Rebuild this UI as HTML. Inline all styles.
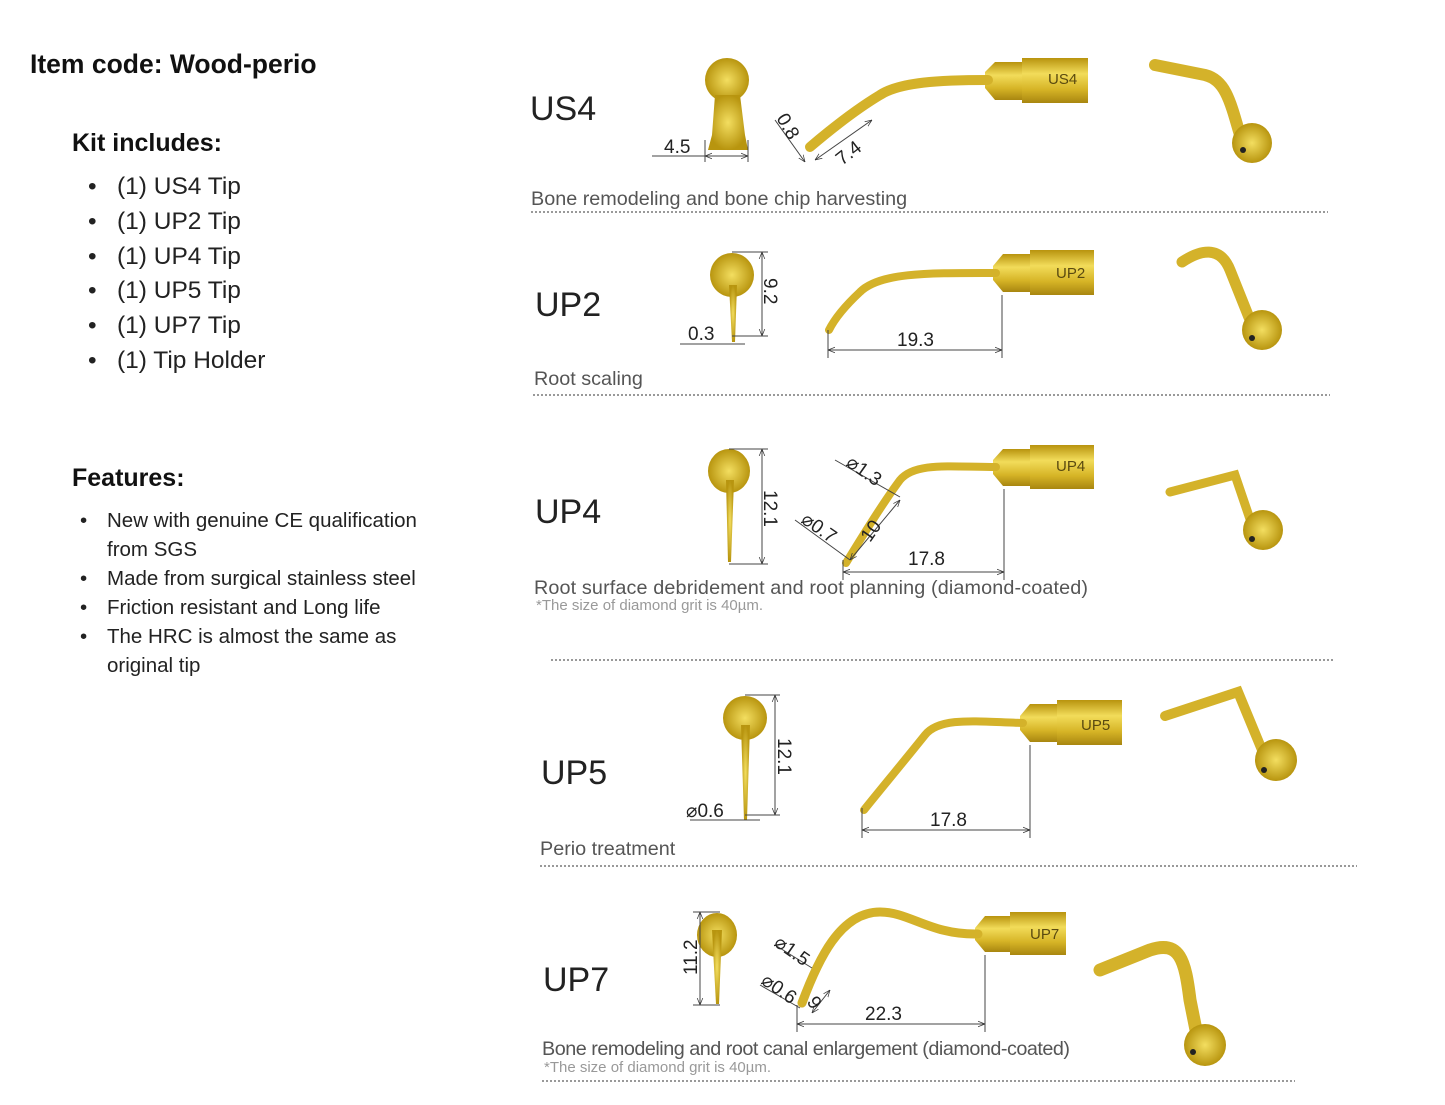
<!DOCTYPE html>
<html><head><meta charset="utf-8"><style>
html,body{margin:0;padding:0;background:#fff;}
body{width:1445px;height:1105px;position:relative;overflow:hidden;font-family:"Liberation Sans",sans-serif;}
.t{position:absolute;white-space:nowrap;color:#111;}
svg{position:absolute;left:0;top:0;}
.li{position:relative;padding-left:29px;}
.li:before{content:"•";position:absolute;left:0;}
</style></head><body>
<div class="t" style="left:30px;top:49px;font-size:26.5px;font-weight:bold;">Item code: Wood-perio</div>
<div class="t" style="left:72px;top:129px;font-size:25px;font-weight:bold;">Kit includes:</div>
<div class="t" style="left:88px;top:170px;font-size:24.5px;line-height:34.8px;color:#222;">
<div class="li">(1) US4 Tip</div><div class="li">(1) UP2 Tip</div><div class="li">(1) UP4 Tip</div><div class="li">(1) UP5 Tip</div><div class="li">(1) UP7 Tip</div><div class="li">(1) Tip Holder</div></div>
<div class="t" style="left:72px;top:464px;font-size:25px;font-weight:bold;">Features:</div>
<div class="t" style="left:80px;top:506px;font-size:20.5px;line-height:29px;color:#222;">
<div class="li" style="padding-left:27px">New with genuine CE qualification</div>
<div style="padding-left:27px">from SGS</div>
<div class="li" style="padding-left:27px">Made from surgical stainless steel</div>
<div class="li" style="padding-left:27px">Friction resistant and Long life</div>
<div class="li" style="padding-left:27px">The HRC is almost the same as</div>
<div style="padding-left:27px">original tip</div></div>

<svg width="1445" height="1105" font-family="Liberation Sans, sans-serif">
<defs>
<linearGradient id="g" x1="0" y1="0" x2="0" y2="1"><stop offset="0" stop-color="#b8930e"/><stop offset=".35" stop-color="#f2dc5a"/><stop offset=".7" stop-color="#d6b426"/><stop offset="1" stop-color="#a88610"/></linearGradient>
<radialGradient id="r"><stop offset="0" stop-color="#f3de60"/><stop offset="1" stop-color="#b8950f"/></radialGradient>
<marker id="a" viewBox="0 0 10 10" refX="10" refY="5" markerWidth="7" markerHeight="7" orient="auto-start-reverse"><path d="M0,1 L10,5 L0,9" fill="none" stroke="#333"/></marker>
</defs>
<g fill="#222" font-size="34">
<text x="530" y="120">US4</text><text x="535" y="316">UP2</text><text x="535" y="523">UP4</text><text x="541" y="784">UP5</text><text x="543" y="991">UP7</text>
</g>
<g fill="#555" font-size="19.8">
<text x="531" y="205">Bone remodeling and bone chip harvesting</text>
<text x="534" y="385">Root scaling</text>
<text x="534" y="594" textLength="554">Root surface debridement and root planning (diamond-coated)</text>
<text x="540" y="855">Perio treatment</text>
<text x="542" y="1055" textLength="528">Bone remodeling and root canal enlargement (diamond-coated)</text>
</g>
<g fill="#999" font-size="15"><text x="536" y="610">*The size of diamond grit is 40µm.</text><text x="544" y="1072">*The size of diamond grit is 40µm.</text></g>
<g stroke="#999" stroke-width="2" stroke-dasharray="2,2">
<line x1="531" y1="212" x2="1328" y2="212"/><line x1="533" y1="395" x2="1330" y2="395"/><line x1="551" y1="660" x2="1333" y2="660"/><line x1="540" y1="866" x2="1357" y2="866"/><line x1="542" y1="1081" x2="1295" y2="1081"/>
</g>
<g fill="url(#g)">
<rect x="1022" y="58" width="66" height="45"/><path d="M995,62 L1022,62 L1022,100 L995,100 L985,88 L985,72Z"/>
<rect x="1030" y="250" width="64" height="45"/><path d="M1003,254 L1030,254 L1030,292 L1003,292 L993,280 L993,266Z"/>
<rect x="1030" y="445" width="64" height="44"/><path d="M1003,449 L1030,449 L1030,486 L1003,486 L993,474 L993,460Z"/>
<rect x="1057" y="700" width="65" height="45"/><path d="M1030,704 L1057,704 L1057,742 L1030,742 L1020,730 L1020,716Z"/>
<rect x="1010" y="912" width="56" height="43"/><path d="M985,916 L1010,916 L1010,952 L985,952 L975,940 L975,928Z"/>
</g>
<g fill="#5a4a10" font-size="15"><text x="1048" y="84">US4</text><text x="1056" y="278">UP2</text><text x="1056" y="471">UP4</text><text x="1081" y="730">UP5</text><text x="1030" y="939">UP7</text></g>
<g fill="none" stroke="#d4b22a" stroke-linecap="round">
<path d="M988,80 C940,80 900,82 880,95 C855,110 830,130 810,147" stroke-width="10"/>
<path d="M996,273 C930,273 880,272 860,292 C845,306 835,318 829,330" stroke-width="8"/>
<path d="M996,467 C950,467 915,462 900,480 C885,500 860,540 846,563" stroke-width="8"/>
<path d="M1023,723 C980,722 940,716 925,735 C905,760 880,790 864,810" stroke-width="8"/>
<path d="M978,934 C930,935 910,912 880,912 C840,912 818,960 802,1003" stroke-width="9"/>
</g>
<g fill="url(#r)">
<ellipse cx="727" cy="80" rx="22" ry="22"/><path d="M715,95 L740,95 L745,135 L748,150 L708,150 L712,135Z"/>
<circle cx="732" cy="275" r="22"/><path d="M729,285 L737,285 L735,342 L732,342Z"/>
<ellipse cx="729" cy="471" rx="21" ry="22"/><path d="M726,480 L734,480 L731,562 L728,562Z"/>
<circle cx="745" cy="718" r="22"/><path d="M741,725 L750,725 L747,820 L744,820Z"/>
<ellipse cx="717" cy="935" rx="20" ry="22"/><path d="M712,930 L722,930 L719,1004 L716,1004Z"/>
</g>
<g fill="none" stroke="#d4b22a" stroke-linecap="round">
<path d="M1155,65 L1205,75 C1225,80 1230,100 1240,135" stroke-width="12"/>
<path d="M1182,262 C1200,250 1220,245 1230,270 L1250,320" stroke-width="11"/>
<path d="M1170,492 L1235,475 L1252,525" stroke-width="9"/>
<path d="M1165,716 L1238,692 L1262,750" stroke-width="10"/>
<path d="M1100,970 L1150,950 C1180,940 1185,960 1190,1000 L1198,1040" stroke-width="13"/>
</g>
<g fill="url(#r)"><circle cx="1252" cy="143" r="20"/><circle cx="1262" cy="330" r="20"/><circle cx="1263" cy="530" r="20"/><circle cx="1276" cy="760" r="21"/><circle cx="1205" cy="1045" r="21"/></g>
<g fill="#222"><circle cx="1243" cy="150" r="3"/><circle cx="1252" cy="338" r="3"/><circle cx="1252" cy="539" r="3"/><circle cx="1264" cy="770" r="3"/><circle cx="1193" cy="1052" r="3"/></g>
<g stroke="#444" stroke-width="1" fill="none">
<line x1="652" y1="156" x2="705" y2="156"/><line x1="705" y1="156" x2="748" y2="156" marker-start="url(#a)" marker-end="url(#a)"/><line x1="705" y1="140" x2="705" y2="162"/><line x1="748" y1="140" x2="748" y2="162"/>
<line x1="775" y1="120" x2="805" y2="162" marker-end="url(#a)"/><line x1="815" y1="160" x2="872" y2="120" marker-start="url(#a)" marker-end="url(#a)"/>
<line x1="732" y1="252" x2="768" y2="252"/><line x1="732" y1="336" x2="768" y2="336"/><line x1="762" y1="252" x2="762" y2="336" marker-start="url(#a)" marker-end="url(#a)"/><line x1="680" y1="344" x2="745" y2="344"/>
<line x1="828" y1="330" x2="828" y2="358"/><line x1="1002" y1="295" x2="1002" y2="358"/><line x1="828" y1="350" x2="1002" y2="350" marker-start="url(#a)" marker-end="url(#a)"/>
<line x1="729" y1="449" x2="768" y2="449"/><line x1="729" y1="564" x2="768" y2="564"/><line x1="762" y1="449" x2="762" y2="564" marker-start="url(#a)" marker-end="url(#a)"/>
<line x1="843" y1="560" x2="843" y2="580"/><line x1="1004" y1="489" x2="1004" y2="580"/><line x1="843" y1="572" x2="1004" y2="572" marker-start="url(#a)" marker-end="url(#a)"/>
<line x1="835" y1="460" x2="900" y2="497"/><line x1="795" y1="520" x2="850" y2="560"/><line x1="850" y1="560" x2="900" y2="500" marker-start="url(#a)" marker-end="url(#a)"/>
<line x1="745" y1="695" x2="780" y2="695"/><line x1="745" y1="815" x2="780" y2="815"/><line x1="775" y1="695" x2="775" y2="815" marker-start="url(#a)" marker-end="url(#a)"/><line x1="690" y1="820" x2="760" y2="820"/>
<line x1="862" y1="808" x2="862" y2="838"/><line x1="1030" y1="745" x2="1030" y2="838"/><line x1="862" y1="830" x2="1030" y2="830" marker-start="url(#a)" marker-end="url(#a)"/>
<line x1="693" y1="912" x2="720" y2="912"/><line x1="693" y1="1005" x2="720" y2="1005"/><line x1="700" y1="912" x2="700" y2="1005" marker-start="url(#a)" marker-end="url(#a)"/>
<line x1="797" y1="1005" x2="797" y2="1032"/><line x1="985" y1="955" x2="985" y2="1032"/><line x1="797" y1="1024" x2="985" y2="1024" marker-start="url(#a)" marker-end="url(#a)"/>
<line x1="760" y1="985" x2="800" y2="1008"/><line x1="775" y1="945" x2="812" y2="968"/><line x1="812" y1="1013" x2="830" y2="990" marker-start="url(#a)" marker-end="url(#a)"/>
</g>
<g fill="#222" font-size="19">
<text x="664" y="153">4.5</text>
<text transform="translate(776,118) rotate(60)">0.8</text>
<text transform="translate(842,166) rotate(-38)">7.4</text>
<text transform="translate(764,278) rotate(90)">9.2</text>
<text x="688" y="340">0.3</text><text x="897" y="346">19.3</text>
<text transform="translate(764,490) rotate(90)">12.1</text>
<text transform="translate(845,465) rotate(35)">⌀1.3</text>
<text transform="translate(800,522) rotate(35)">⌀0.7</text>
<text transform="translate(870,543) rotate(-55)">10</text>
<text x="908" y="565">17.8</text>
<text transform="translate(778,738) rotate(90)">12.1</text>
<text x="686" y="817">⌀0.6</text><text x="930" y="826">17.8</text>
<text transform="translate(697,975) rotate(-90)">11.2</text>
<text transform="translate(773,945) rotate(35)">⌀1.5</text>
<text transform="translate(760,983) rotate(35)">⌀0.6</text>
<text transform="translate(823,1003) rotate(-125)">6</text>
<text x="865" y="1020">22.3</text>
</g>
</svg>
</body></html>
